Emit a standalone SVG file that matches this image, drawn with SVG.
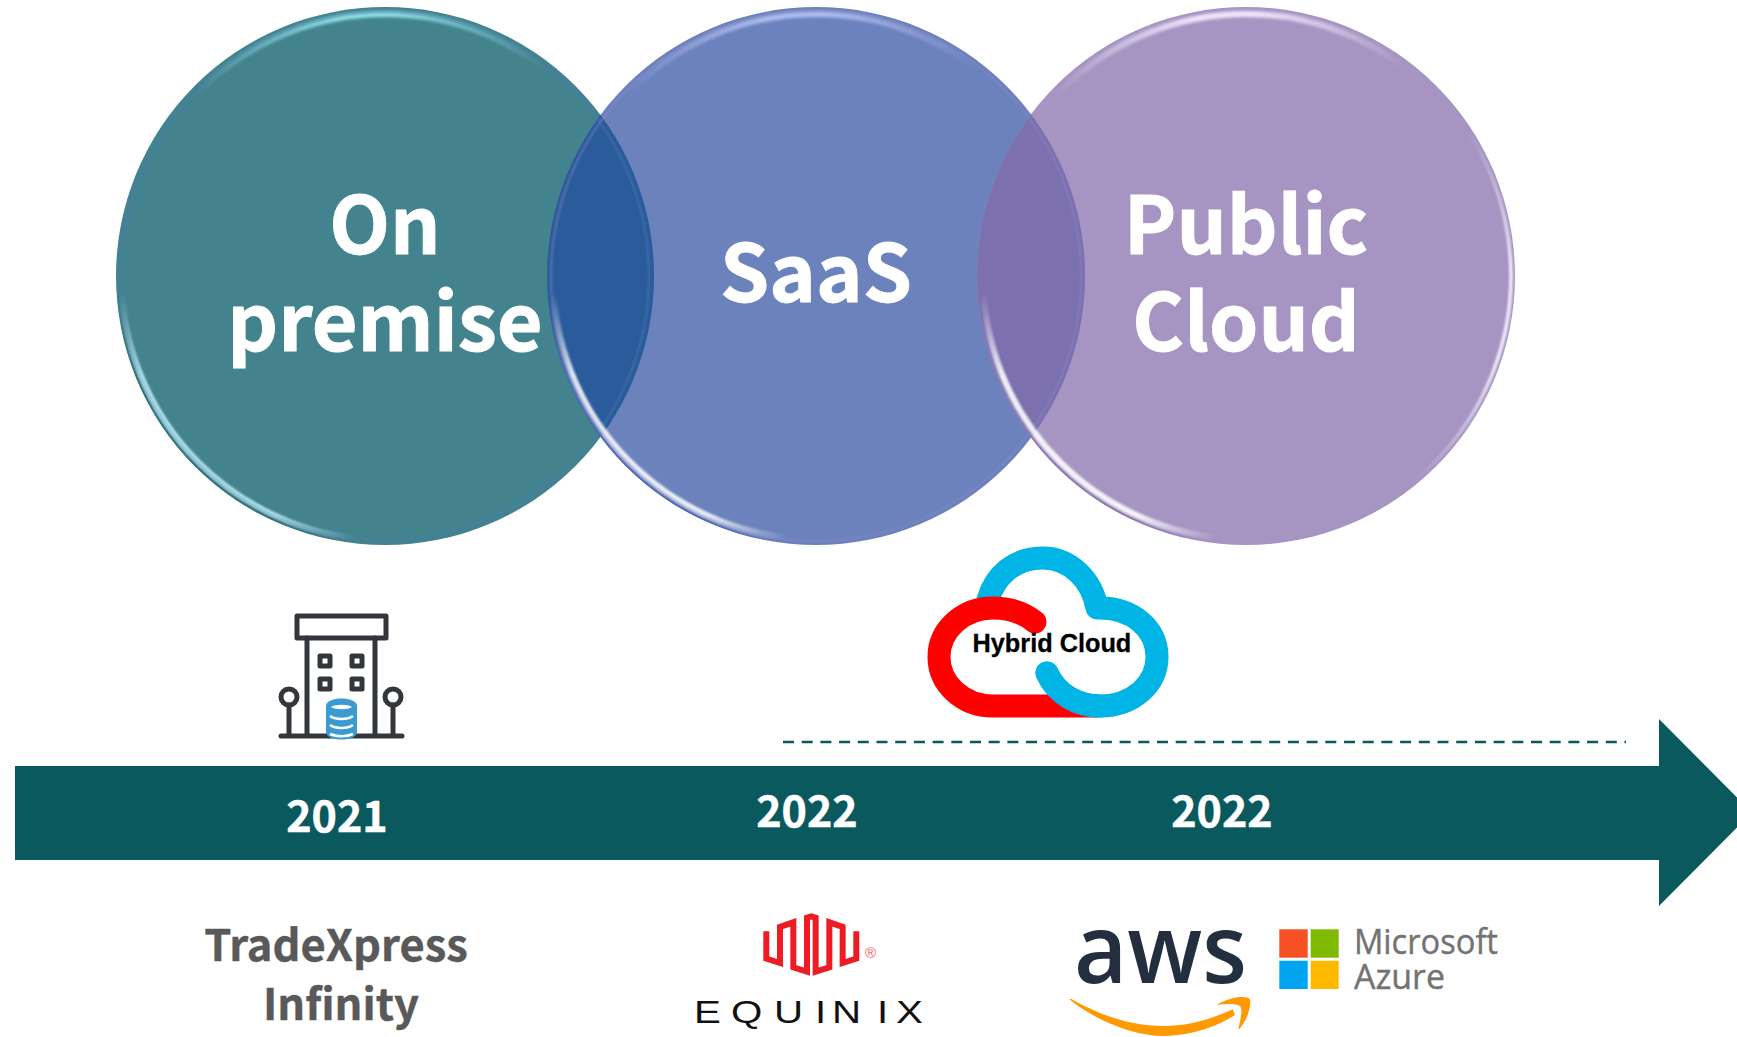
<svg xmlns="http://www.w3.org/2000/svg" width="1737" height="1037" viewBox="0 0 1737 1037">
<style>
.t{font-family:"Noto Sans CJK SC","Noto Sans CJK JP",sans-serif;font-weight:700;text-anchor:middle}
.big{font-size:79px;fill:#fff;stroke:#fff;stroke-width:.9}
.yr{font-size:43px;fill:#fff;stroke:#fff;stroke-width:.5}
.tx{font-size:43.5px;fill:#595959;stroke:#595959;stroke-width:.4}
.hl{fill:none}
.ms{font-family:"Open Sans",sans-serif;font-size:34px;fill:#737373;stroke:#737373;stroke-width:.4}
.bld{fill:none;stroke:#33363b;stroke-width:5;stroke-linejoin:round;stroke-linecap:round}
</style>
<defs>
<filter id="b2" x="-20%" y="-20%" width="140%" height="140%"><feGaussianBlur stdDeviation="1.8"/></filter>
<filter id="b1" x="-20%" y="-20%" width="140%" height="140%"><feGaussianBlur stdDeviation="1"/></filter>
<clipPath id="c0"><circle r="269"/></clipPath>
<clipPath id="c1"><circle cx="385" cy="276" r="269"/></clipPath>
<clipPath id="c2"><circle cx="816" cy="276" r="269"/></clipPath>
<radialGradient id="fadeD" gradientUnits="userSpaceOnUse" cx="-190" cy="182" r="180"><stop offset=".55" stop-color="#fff"/><stop offset="1" stop-color="#fff" stop-opacity="0"/></radialGradient>
<radialGradient id="fadeH" gradientUnits="userSpaceOnUse" cx="-20" cy="-262" r="190"><stop offset=".15" stop-color="#fff"/><stop offset="1" stop-color="#fff" stop-opacity="0"/></radialGradient>
<radialGradient id="fadeV" gradientUnits="userSpaceOnUse" cx="262" cy="40" r="190"><stop offset=".25" stop-color="#fff"/><stop offset="1" stop-color="#fff" stop-opacity="0"/></radialGradient>
<mask id="mD" maskUnits="userSpaceOnUse" x="-280" y="-280" width="560" height="560"><rect x="-280" y="-280" width="560" height="560" fill="url(#fadeD)"/></mask>
<mask id="mH" maskUnits="userSpaceOnUse" x="-280" y="-280" width="560" height="560"><rect x="-280" y="-280" width="560" height="560" fill="url(#fadeH)"/></mask>
<mask id="mV" maskUnits="userSpaceOnUse" x="-280" y="-280" width="560" height="560"><rect x="-280" y="-280" width="560" height="560" fill="url(#fadeV)"/></mask>
</defs>
<rect width="1737" height="1037" fill="#fff"/>

<g id="node-on-premise">
<circle cx="385" cy="276" r="269" fill="#43838d"/>
<g transform="translate(385 276)" clip-path="url(#c0)">
<circle class="hl" r="262" stroke="#8fe0e6" stroke-width="6" mask="url(#mH)" filter="url(#b2)"/>
<circle class="hl" r="268" stroke="#2f6f78" stroke-width="2" mask="url(#mD)"/>
<circle class="hl" r="263.5" stroke="#c8f8fa" stroke-width="5" mask="url(#mD)" filter="url(#b1)"/>
</g>
</g>
<g id="node-saas">
<circle cx="816" cy="276" r="269" fill="#6b82bd"/>
<g clip-path="url(#c1)"><circle cx="816" cy="276" r="269" fill="#2a5b9b"/>
<circle cx="385" cy="276" r="264" fill="none" stroke="#4f7db5" stroke-width="1.6" filter="url(#b1)" opacity=".7"/></g>
<g transform="translate(816 276)" clip-path="url(#c0)">
<circle class="hl" r="262" stroke="#aebdf0" stroke-width="6" mask="url(#mH)" filter="url(#b2)"/>
<circle class="hl" r="268" stroke="#4c6bb5" stroke-width="2.2" mask="url(#mD)"/>
<circle class="hl" r="263" stroke="#fff" stroke-width="6" mask="url(#mD)" filter="url(#b1)" opacity=".88"/>
</g>
</g>
<g id="node-public-cloud">
<circle cx="1246" cy="276" r="269" fill="#a694c2"/>
<g clip-path="url(#c2)"><circle cx="1246" cy="276" r="269" fill="#7c70af"/>
<circle cx="816" cy="276" r="265" fill="none" stroke="#8f8cc8" stroke-width="1.4" filter="url(#b1)" opacity=".7"/></g>
<g transform="translate(1246 276)" clip-path="url(#c0)">
<circle class="hl" r="262" stroke="#efe6fc" stroke-width="6" mask="url(#mH)" filter="url(#b2)"/>
<circle class="hl" r="268" stroke="#8a79b5" stroke-width="2" mask="url(#mD)"/>
<circle class="hl" r="263" stroke="#fff" stroke-width="6" mask="url(#mD)" filter="url(#b1)" opacity=".88"/>
<circle class="hl" r="265" stroke="#f2edfc" stroke-width="3.5" mask="url(#mV)" filter="url(#b1)"/>
</g>
</g>
<g id="labels">
<text class="t big" x="385" y="254">On</text>
<text class="t big" x="385" y="351">premise</text>
<text class="t big" x="816" y="302">SaaS</text>
<text class="t big" x="1246" y="254">Public</text>
<text class="t big" x="1246" y="351">Cloud</text>
</g>

<g id="connectors">
<path d="M15 766H1659V719L1752 812.5L1659 906V860H15Z" fill="#09595f"/>
<line x1="783" y1="742" x2="1626" y2="742" stroke="#09595f" stroke-width="2.5" stroke-dasharray="11 7.7"/>
</g>
<g id="years">
<text class="t yr" x="337" y="832">2021</text>
<text class="t yr" x="807" y="827">2022</text>
<text class="t yr" x="1222" y="827">2022</text>
</g>

<g id="node-building">
<rect class="bld" x="297" y="616" width="89" height="22"/>
<path class="bld" d="M307 638V736M375 638V736M281 736H402M289 705V736M393 705V736"/>
<circle class="bld" cx="289" cy="697" r="8"/>
<circle class="bld" cx="393" cy="697" r="8"/>
<rect class="bld" x="320" y="656" width="10" height="10"/>
<rect class="bld" x="352" y="656" width="10" height="10"/>
<rect class="bld" x="320" y="679" width="10" height="10"/>
<rect class="bld" x="352" y="679" width="10" height="10"/>
<path d="M326 706C326 696 357 696 357 706V732C357 742 326 742 326 732Z" fill="#3a9bd2"/>
<path d="M330 716C336 720 347 720 353 716M330 725C336 729 347 729 353 725M330 734C336 737 347 737 353 734" fill="none" stroke="#fff" stroke-width="2.6"/>
<path d="M331 707C335 710 348 710 352 707C348 704 335 704 331 707Z" fill="#fff"/>
</g>

<g id="node-hybrid-cloud" fill="none" stroke-width="23">
<path d="M1047 673C1057 695 1078 706 1100 706C1133 706 1157 684 1157 657C1157 629 1133 608 1100 608H1097C1092 580 1070 558 1043 558C1015 558 995 575 988 600" stroke="#00b5e6" stroke-linecap="round" stroke-linejoin="round"/>
<path d="M1035 622C1024 613 1009 608 993 608C963 608 939 630 939 657C939 684 963 706 993 706H1095" stroke="#ff0000" stroke-linecap="round"/>
<path d="M1047 673C1057 695 1078 706 1100 706" stroke="#00b5e6" stroke-linecap="round"/>
<text x="972.5" y="652" font-family="'Liberation Sans',sans-serif" font-weight="700" font-size="25.3" fill="#000" stroke="#000" stroke-width=".3">Hybrid Cloud</text>
</g>

<g id="node-tradexpress">
<text class="t tx" x="336" y="961">TradeXpress</text>
<text class="t tx" x="341" y="1020">Infinity</text>
</g>

<g id="node-equinix">
<polyline transform="translate(670 890) scale(.3333)" points="289,124 289,206 330,219 330,111 370,97 370,232 411,245 411,83 424,79 437,83 437,245 478,232 478,97 518,111 518,219 559,206 559,124" fill="none" stroke="#ed1c24" stroke-width="18"/>
<text x="865" y="958" font-family="'Liberation Sans',sans-serif" font-size="15" fill="#ef5a60">®</text>
<text transform="translate(0 1023) scale(1.3 1)" x="533.8 562.3 595.4 626.9 640 674.6 689.2" y="0" font-family="'Liberation Sans',sans-serif" font-size="31" fill="#111">EQUINIX</text>
</g>

<g id="node-aws">
<text x="1074" y="983" font-family="'Open Sans',sans-serif" font-weight="600" font-size="96" fill="#232f3e" textLength="173" lengthAdjust="spacingAndGlyphs">aws</text>
<g transform="translate(1050 900) scale(.3333)" fill="#f90">
<path d="M58 298C140 365 260 410 345 408C430 405 500 380 555 345L548 328C480 358 420 378 340 378C240 378 150 345 62 296Z"/>
<path d="M500 315C540 290 590 285 600 298C605 320 590 365 565 390C570 360 580 330 570 318C555 310 525 312 500 315Z"/>
</g>
</g>

<g id="node-azure">
<rect x="1279.3" y="929.3" width="28.4" height="28.4" fill="#f65125"/>
<rect x="1310.7" y="929.3" width="28" height="28.4" fill="#7fba00"/>
<rect x="1279.3" y="960.7" width="28.4" height="28.3" fill="#00a4ef"/>
<rect x="1310.7" y="960.7" width="28" height="28.3" fill="#ffb900"/>
<text class="ms" x="1354" y="954" textLength="144" lengthAdjust="spacingAndGlyphs">Microsoft</text>
<text class="ms" x="1354" y="989" textLength="91" lengthAdjust="spacingAndGlyphs">Azure</text>
</g>
</svg>
